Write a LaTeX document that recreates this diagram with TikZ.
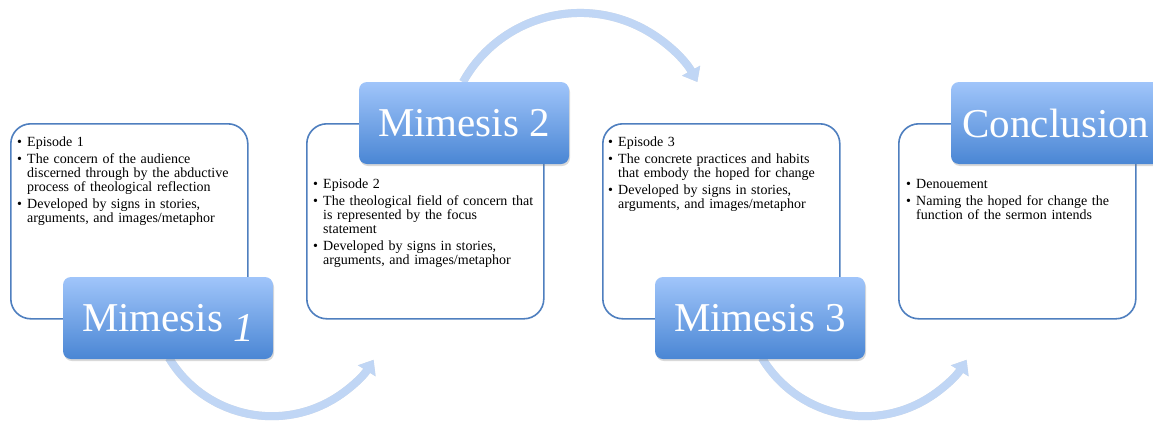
\documentclass[tikz,border=0pt]{standalone}
\usepackage{fontspec}
\setmainfont{Liberation Serif}
\usetikzlibrary{arrows.meta,shadows}
\definecolor{cardline}{HTML}{4F7FBF}
\definecolor{titletop}{HTML}{A0C5FA}
\definecolor{titlemid}{HTML}{86B1EF}
\definecolor{titlebot}{HTML}{4A86D4}
\definecolor{loopblue}{HTML}{C0D6F5}
\newcommand{\bul}{\par\setlength{\parskip}{3pt}\hangindent=10pt\hangafter=1\noindent\makebox[10pt][l]{\textbullet}}
\begin{document}
\begin{tikzpicture}[x=1pt,y=-1pt,
  card/.style={draw=cardline,line width=1.6pt,fill=white,rounded corners=20pt,minimum width=237pt,minimum height=195pt,inner sep=0pt,anchor=north west},
  title/.style={rounded corners=8pt,minimum width=210pt,minimum height=82pt,inner sep=0pt,top color=titletop,middle color=titlemid,bottom color=titlebot,drop shadow={opacity=.3,shadow xshift=1pt,shadow yshift=-2pt},text=white,font=\fontsize{41}{41}\selectfont},
  txt/.style={anchor=north west,inner sep=0pt,text width=228pt,align=left,font=\fontsize{14}{14}\selectfont},
  loop/.style={line width=8pt,loopblue,-{Triangle[length=13pt,width=20pt]}},
  loopshade/.style={line width=8pt,black,opacity=.12,-{Triangle[length=13pt,width=20pt]}}]
\useasboundingbox (0,0) rectangle (1153,426);
\clip (0,0) rectangle (1153,426);
\coordinate (A) at (169,358);
\coordinate (B) at (463,82);
\coordinate (C) at (762,358);
\draw[loopshade,shift={(2,3)}] (A) arc[start angle=149,end angle=32,radius=120];
\draw[loopshade,shift={(2,3)}] (B) arc[start angle=-151,end angle=-29,radius=134];
\draw[loopshade,shift={(2,3)}] (C) arc[start angle=149,end angle=32,radius=120];
\draw[loop] (A) arc[start angle=149,end angle=32,radius=120];
\draw[loop] (B) arc[start angle=-151,end angle=-29,radius=134];
\draw[loop] (C) arc[start angle=149,end angle=32,radius=120];
\node[card] (b1) at (10,123) {};
\node[card] (b2) at (306,123) {};
\node[card] (b3) at (602,123) {};
\node[card] (b4) at (898,123) {};
\node[title] (m1) at (168,318) {Mimesis \raisebox{-10pt}[0pt][0pt]{\itshape 1}};
\node[title] (m2) at (464,123) {Mimesis 2};
\node[title] (m3) at (760,318) {Mimesis 3};
\node[title] (con) at (1056,123) {Conclusion};
\node[txt] (t1) at (17,129) {\bul Episode 1\bul The concern of the audience\newline discerned through by the abductive\newline process of theological reflection\bul Developed by signs in stories,\newline arguments, and images/metaphor\par};
\node[txt] (t2) at (313,171) {\bul Episode 2\bul The theological field of concern that\newline is represented by the focus\newline statement\bul Developed by signs in stories,\newline arguments, and images/metaphor\par};
\node[txt] (t3) at (608,129) {\bul Episode 3\bul The concrete practices and habits\newline that embody the hoped for change\bul Developed by signs in stories,\newline arguments, and images/metaphor\par};
\node[txt] (t4) at (906,171) {\bul Denouement\bul Naming the hoped for change the\newline function of the sermon intends\par};
\end{tikzpicture}
\end{document}
